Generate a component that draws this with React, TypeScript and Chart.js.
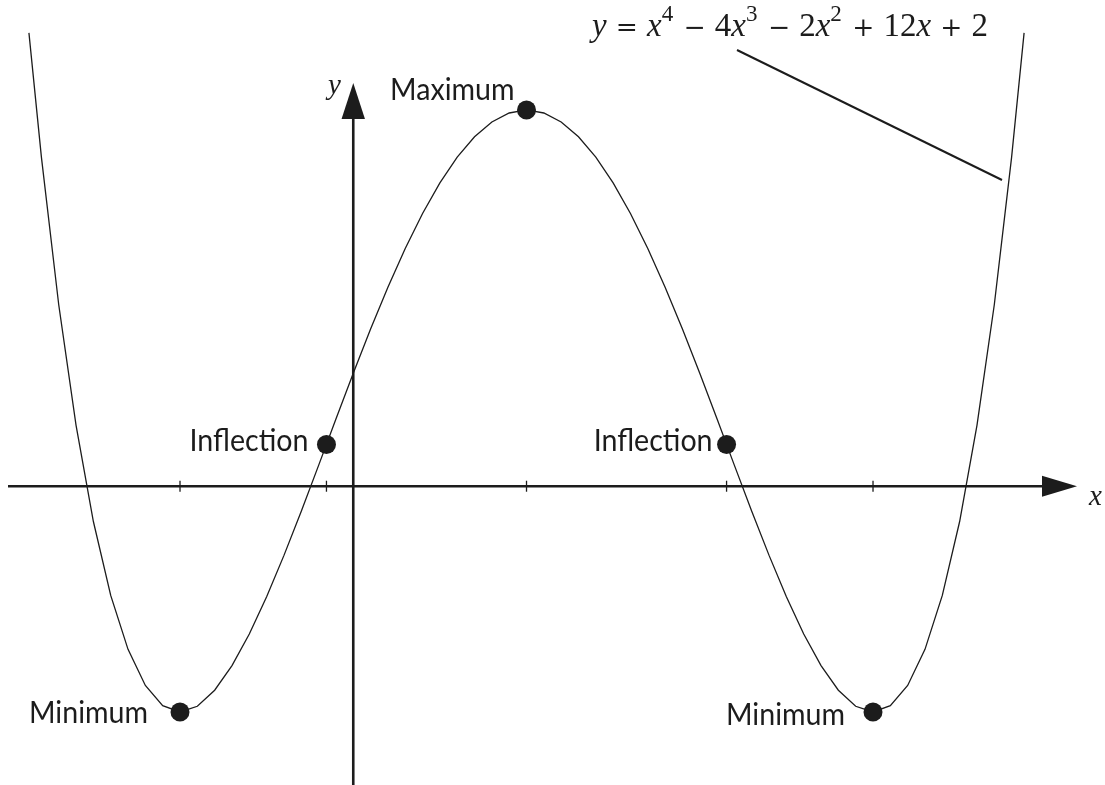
import React, { useEffect, useRef } from "react";
import { Chart, registerables } from "chart.js";
Chart.register(...registerables);

// Curve y = x^4 - 4x^3 - 2x^2 + 12x + 2
const curveX = [
  -1.872, -1.8, -1.7, -1.6, -1.5, -1.4, -1.3, -1.2, -1.1, -1.0,
  -0.9, -0.8, -0.7, -0.6, -0.5, -0.4, -0.3, -0.2, -0.1, 0.0,
  0.1, 0.2, 0.3, 0.4, 0.5, 0.6, 0.7, 0.8, 0.9, 1.0,
  1.1, 1.2, 1.3, 1.4, 1.5, 1.6, 1.7, 1.8, 1.9, 2.0,
  2.1, 2.2, 2.3, 2.4, 2.5, 2.6, 2.7, 2.8, 2.9, 3.0,
  3.1, 3.2, 3.3, 3.4, 3.5, 3.6, 3.7, 3.8, 3.872,
];
const curveY = [
  11.05, 7.746, 3.824, 0.618, -1.938, -3.902, -5.336, -6.294, -6.832, -7.0,
  -6.848, -6.422, -5.768, -4.926, -3.938, -2.838, -1.664, -0.446, 0.784, 2.0,
  3.176, 4.29, 5.32, 6.25, 7.063, 7.746, 8.288, 8.682, 8.92, 9.0,
  8.92, 8.682, 8.288, 7.746, 7.063, 6.25, 5.32, 4.29, 3.176, 2.0,
  0.784, -0.446, -1.664, -2.838, -3.938, -4.926, -5.768, -6.422, -6.848, -7.0,
  -6.832, -6.294, -5.336, -3.902, -1.938, 0.618, 3.824, 7.746, 11.05,
];

// Marked points
const keyX = [-1, -0.1547, 1, 2.1547, 3];
const keyY = [-7, 0.11, 9, 0.11, -7];
const keyLabels = ["Minimum", "Inflection", "Maximum", "Inflection", "Minimum"];

// Tick marks on the horizontal axis
const tickX = [-1, -0.1547, 1, 2.1547, 3];
const axisLevel = -1; // the drawn horizontal axis

const axisNames = ["x", "y"];
// equation pieces; op = binary operator / relation (spaced on both sides)
const equationParts = [
  { t: "y", it: true },
  { t: "=", op: true },
  { t: "x", it: true },
  { t: "4", sup: true },
  { t: "−", op: true },
  { t: "4" },
  { t: "x", it: true },
  { t: "3", sup: true },
  { t: "−", op: true },
  { t: "2" },
  { t: "x", it: true },
  { t: "2", sup: true },
  { t: "+", op: true },
  { t: "12" },
  { t: "x", it: true },
  { t: "+", op: true },
  { t: "2" },
];

const INK = "#1c1c1c";
const SERIF = '"Liberation Serif", "DejaVu Serif", serif';
const OPFONT = '"DejaVu Serif", "Liberation Serif", serif';
const SANS = 'Lato, "Open Sans", sans-serif';

// label placement: right edge offset from dot centre (px) and baseline offset
const labelOffsets = [
  { dx: -32, dy: 11 },
  { dx: -18, dy: 7 },
  { dx: -12, dy: -10 },
  { dx: -14, dy: 7 },
  { dx: -28, dy: 13 },
];

function drawArrow(ctx: CanvasRenderingContext2D, pts: number[][]) {
  ctx.beginPath();
  ctx.moveTo(pts[0][0], pts[0][1]);
  for (let i = 1; i < pts.length; i++) ctx.lineTo(pts[i][0], pts[i][1]);
  ctx.closePath();
  ctx.fill();
}

const decorPlugin = {
  id: "decor",
  beforeDatasetsDraw(chart: any) {
    const ctx: CanvasRenderingContext2D = chart.ctx;
    const xs = chart.scales.x;
    const ys = chart.scales.y;
    const ay = ys.getPixelForValue(axisLevel);
    const ax = xs.getPixelForValue(0);
    ctx.save();
    ctx.strokeStyle = INK;
    ctx.fillStyle = INK;
    ctx.lineWidth = 2.6;
    // horizontal axis
    ctx.beginPath();
    ctx.moveTo(8, ay);
    ctx.lineTo(1050, ay);
    ctx.stroke();
    drawArrow(ctx, [
      [1077, ay],
      [1042, ay - 10.5],
      [1042, ay + 10.5],
    ]);
    // vertical axis
    ctx.beginPath();
    ctx.moveTo(ax, chart.chartArea.bottom);
    ctx.lineTo(ax, 112);
    ctx.stroke();
    drawArrow(ctx, [
      [ax, 83],
      [ax - 11.7, 119],
      [ax + 11.7, 119],
    ]);
    // ticks
    ctx.lineWidth = 1.3;
    for (const t of tickX) {
      const px = xs.getPixelForValue(t);
      ctx.beginPath();
      ctx.moveTo(px, ay - 5.5);
      ctx.lineTo(px, ay + 5.5);
      ctx.stroke();
    }
    // axis names
    ctx.font = `italic 29px ${SERIF}`;
    ctx.textBaseline = "alphabetic";
    ctx.textAlign = "left";
    ctx.fillText(axisNames[0], 1089, 505);
    ctx.fillText(axisNames[1], 328, 94);
    ctx.restore();
  },
  afterDatasetsDraw(chart: any) {
    const ctx: CanvasRenderingContext2D = chart.ctx;
    const xs = chart.scales.x;
    const ys = chart.scales.y;
    ctx.save();
    ctx.fillStyle = INK;
    ctx.strokeStyle = INK;
    // point labels, sans serif
    const base = 31;
    ctx.font = `${base}px ${SANS}`;
    const w0 = ctx.measureText("Minimum").width;
    const sx = 119 / w0;
    ctx.textBaseline = "alphabetic";
    ctx.textAlign = "right";
    keyLabels.forEach((lab, i) => {
      const px = xs.getPixelForValue(keyX[i]) + labelOffsets[i].dx;
      const py = ys.getPixelForValue(keyY[i]) + labelOffsets[i].dy;
      ctx.save();
      ctx.translate(px, py);
      ctx.scale(sx, 1);
      ctx.fillText(lab, 0, 0);
      ctx.restore();
    });
    // equation: glyph size from digit height, operator spacing fills the width
    const size = 33;
    const supGap = size * 0.04;
    const fontFor = (p: any) =>
      p.op
        ? `${size * 0.8}px ${OPFONT}`
        : `${p.it ? "italic " : ""}${p.sup ? size * 0.7 : size}px ${SERIF}`;
    let glyphW = 0;
    let nGaps = 0;
    for (const p of equationParts as any[]) {
      ctx.font = fontFor(p);
      glyphW += ctx.measureText(p.t).width + (p.sup ? supGap : 0);
      if (p.op) nGaps += 2;
    }
    const gap = Math.max(2, (396 - glyphW) / nGaps);
    ctx.textAlign = "left";
    let x = 592;
    const bl = 36;
    for (const p of equationParts as any[]) {
      ctx.font = fontFor(p);
      if (p.op) x += gap;
      ctx.fillText(p.t, x, p.sup ? bl - size * 0.44 : bl);
      x += ctx.measureText(p.t).width + (p.sup ? supGap : 0);
      if (p.op) x += gap;
    }
    // pointer line
    ctx.lineWidth = 2;
    ctx.beginPath();
    ctx.moveTo(737, 50);
    ctx.lineTo(1002, 180);
    ctx.stroke();
    ctx.restore();
  },
};

export default function App() {
  const ref = useRef<HTMLCanvasElement>(null);
  useEffect(() => {
    document.body.style.margin = "0";
    const canvas = ref.current!;
    const chart = new Chart(canvas, {
      type: "line",
      data: {
        datasets: [
          {
            data: curveX.map((x, i) => ({ x, y: curveY[i] })),
            borderColor: INK,
            borderWidth: 1.3,
            pointRadius: 0,
            tension: 0,
            fill: false,
            order: 2,
          },
          {
            data: keyX.map((x, i) => ({ x, y: keyY[i] })),
            showLine: false,
            pointRadius: 9.5,
            pointBackgroundColor: INK,
            pointBorderWidth: 0,
            order: 1,
          },
        ],
      },
      options: {
        responsive: false,
        animation: false,
        devicePixelRatio: 1,
        layout: { padding: 0, autoPadding: false },
        plugins: { legend: { display: false }, tooltip: { enabled: false } },
        events: [],
        scales: {
          x: { type: "linear", min: -2.039, max: 4.339, display: false },
          y: { type: "linear", min: -8.941, max: 11.923, display: false },
        },
      },
      plugins: [decorPlugin],
    });
    return () => chart.destroy();
  }, []);
  return (
    <div style={{ position: "fixed", left: 0, top: 0, width: 1105, height: 785, background: "#fff" }}>
      <canvas ref={ref} width={1105} height={785} />
    </div>
  );
}
